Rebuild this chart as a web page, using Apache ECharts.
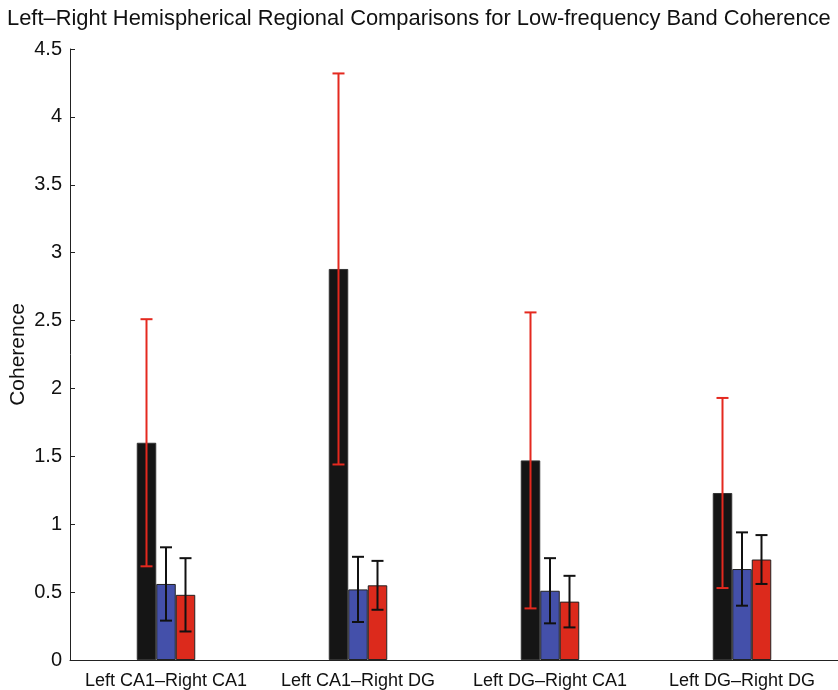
<!DOCTYPE html>
<html><head><meta charset="utf-8">
<script src="https://cdn.jsdelivr.net/npm/echarts@6/dist/echarts.min.js"></script>
<style>html,body{margin:0;padding:0;background:#fff}#c{width:838px;height:690px}</style>
</head><body><div id="c"></div>
<script>
const categories = ['Left CA1\u2013Right CA1', 'Left CA1\u2013Right DG', 'Left DG\u2013Right CA1', 'Left DG\u2013Right DG'];
const blackValues = [1.60, 2.88, 1.47, 1.23];
const blackErr = [0.91, 1.44, 1.09, 0.70];
const blueValues = [0.56, 0.52, 0.51, 0.67];
const blueErr = [0.27, 0.24, 0.24, 0.27];
const redValues = [0.48, 0.55, 0.43, 0.74];
const redErr = [0.27, 0.18, 0.19, 0.18];
const yTicks = [0, 0.5, 1, 1.5, 2, 2.5, 3, 3.5, 4, 4.5];

const BW = 19.5;
const FONT = '"Liberation Sans", Arial, Helvetica, sans-serif';

function errSeries(vals, errs, offset, color) {
  return {
    type: 'custom',
    z: 10,
    data: vals.map((v, i) => [i, v - errs[i], v + errs[i]]),
    renderItem: function (params, api) {
      const lo = api.coord([api.value(0), api.value(1)]);
      const hi = api.coord([api.value(0), api.value(2)]);
      const x = lo[0] + offset;
      const cap = 6;
      const style = { stroke: color, lineWidth: 2 };
      return {
        type: 'group',
        children: [
          { type: 'line', shape: { x1: x, y1: lo[1], x2: x, y2: hi[1] }, style },
          { type: 'line', shape: { x1: x - cap, y1: lo[1], x2: x + cap, y2: lo[1] }, style },
          { type: 'line', shape: { x1: x - cap, y1: hi[1], x2: x + cap, y2: hi[1] }, style }
        ]
      };
    }
  };
}

const chart = echarts.init(document.getElementById('c'));
chart.setOption({
  animation: false,
  backgroundColor: '#fff',
  textStyle: { fontFamily: FONT },
  title: {
    text: 'Left\u2013Right Hemispherical Regional Comparisons for Low-frequency Band Coherence',
    left: 2, top: 3,
    textStyle: { fontFamily: FONT, fontSize: 21.9, fontWeight: 'normal', color: '#111' }
  },
  grid: { left: 70, right: 0, top: 49, bottom: 30, containLabel: false, outerBoundsMode: 'none' },
  xAxis: {
    type: 'category',
    data: categories,
    axisLine: { lineStyle: { color: '#222', width: 1 } },
    axisTick: { show: false },
    axisLabel: { color: '#111', fontSize: 18, fontFamily: FONT, margin: 12, interval: 0, hideOverlap: false }
  },
  yAxis: {
    type: 'value',
    min: 0, max: 4.5, interval: 0.5,
    name: 'Coherence',
    nameLocation: 'middle',
    nameGap: 41,
    nameMoveOverlap: false,
    nameTextStyle: { color: '#111', fontSize: 21, fontFamily: FONT },
    axisLine: { show: true, lineStyle: { color: '#222', width: 1 } },
    axisTick: { show: true, inside: true, length: 5, lineStyle: { color: '#222' } },
    splitLine: { show: false },
    axisLabel: {
      color: '#111', fontSize: 20, fontFamily: FONT, margin: 8,
      formatter: v => yTicks.includes(v) ? String(v) : ''
    }
  },
  series: [
    { type: 'bar', data: blackValues, barWidth: BW, barGap: '0%',
      itemStyle: { color: '#151515', borderColor: '#333', borderWidth: 1 } },
    { type: 'bar', data: blueValues, barWidth: BW, barGap: '0%',
      itemStyle: { color: '#4450aa', borderColor: '#222', borderWidth: 1 } },
    { type: 'bar', data: redValues, barWidth: BW, barGap: '0%',
      itemStyle: { color: '#dc2a1c', borderColor: '#222', borderWidth: 1 } },
    errSeries(blackValues, blackErr, -BW, '#e4291f'),
    errSeries(blueValues, blueErr, 0, '#111'),
    errSeries(redValues, redErr, BW, '#111')
  ]
});
</script></body></html>
